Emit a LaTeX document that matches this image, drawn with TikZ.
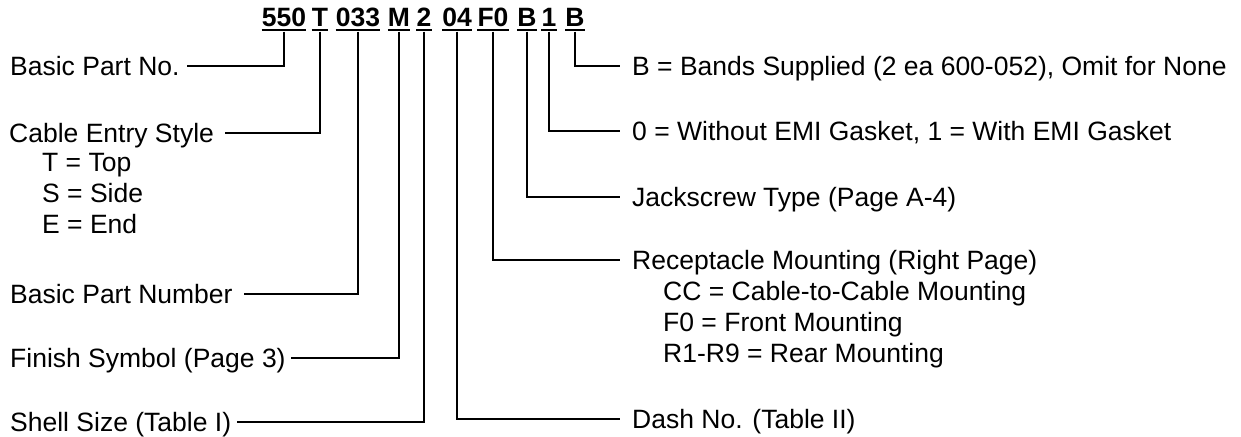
\documentclass[tikz,border=0pt]{standalone}
\usepackage{fontspec}
\setmainfont{Liberation Sans}
\begin{document}
\begin{tikzpicture}[x=1pt,y=-1pt,
  lbl/.style={inner sep=0pt, anchor=base west, text height=19pt, text depth=0pt, font=\fontsize{26.5}{30}\selectfont},
  code/.style={inner sep=0pt, anchor=base, text height=19pt, text depth=0pt, font=\fontsize{26.5}{30}\selectfont\bfseries},
  conn/.style={line width=2.4pt},
  uline/.style={line width=2pt}]
\useasboundingbox (0,0) rectangle (1241,436);
% part number code
\node[code] (c1) at (284,27) {550};
\node[code] (c2) at (320,27) {T};
\node[code] (c3) at (358,27) {033};
\node[code] (c4) at (399,27) {M};
\node[code] (c5) at (424,27) {2};
\node[code] (c6) at (457,27) {04};
\node[code] (c7) at (493,27) {F0};
\node[code] (c8) at (527,27) {B};
\node[code] (c9) at (549,27) {1};
\node[code] (c10) at (575,27) {B};
\foreach \n in {c1,c2,c3,c4,c5,c6,c7,c8,c9,c10}
  \draw[uline] ([yshift=-2.5pt]\n.south west) -- ([yshift=-2.5pt]\n.south east);
% left labels
\node[lbl] (basicno) at (10,75.5) {Basic Part No.};
\node[lbl] (cable) at (9,142.5) {Cable Entry Style};
\node[lbl] (top) at (42,171) {T = Top};
\node[lbl] (side) at (42,202) {S = Side};
\node[lbl] (end) at (42,233) {E = End};
\node[lbl] (basicnum) at (10,303.5) {Basic Part Number};
\node[lbl] (finish) at (10,367.5) {Finish Symbol (Page 3)};
\node[lbl] (shell) at (10,431.5) {Shell Size (Table I)};
% right labels
\node[lbl] (bands) at (632,75.5) {B = Bands Supplied (2 ea 600-052), Omit for None};
\node[lbl] (emi) at (632,140.5) {0 = Without EMI Gasket, 1 = With EMI Gasket};
\node[lbl] (jack) at (632,206.5) {Jackscrew Type (Page A-4)};
\node[lbl] (recep) at (632,269.5) {Receptacle Mounting (Right Page)};
\node[lbl] (cc) at (663,300) {CC = Cable-to-Cable Mounting};
\node[lbl] (front) at (663,331) {F0 = Front Mounting};
\node[lbl] (rear) at (663,362) {R1-R9 = Rear Mounting};
\node[lbl] (dash) at (632,428.5) {Dash No. (Table II)};
% connectors
\draw[conn] ([yshift=-4.5pt]c1.south) |- ([xshift=7pt]basicno.east);
\draw[conn] ([yshift=-4.5pt]c2.south) |- ([xshift=11pt]cable.east);
\draw[conn] ([yshift=-4.5pt]c3.south) |- ([xshift=11pt]basicnum.east);
\draw[conn] ([yshift=-4.5pt]c4.south) |- ([xshift=5pt]finish.east);
\draw[conn] ([yshift=-4.5pt]c5.south) |- ([xshift=6pt]shell.east);
\draw[conn] ([yshift=-4.5pt]c6.south) |- ([xshift=-12.5pt]dash.west);
\draw[conn] ([yshift=-4.5pt]c7.south) |- ([xshift=-12.5pt]recep.west);
\draw[conn] ([yshift=-4.5pt]c8.south) |- ([xshift=-12.5pt]jack.west);
\draw[conn] ([yshift=-4.5pt]c9.south) |- ([xshift=-12.5pt]emi.west);
\draw[conn] ([yshift=-4.5pt]c10.south) |- ([xshift=-12.5pt]bands.west);
\end{tikzpicture}
\end{document}
